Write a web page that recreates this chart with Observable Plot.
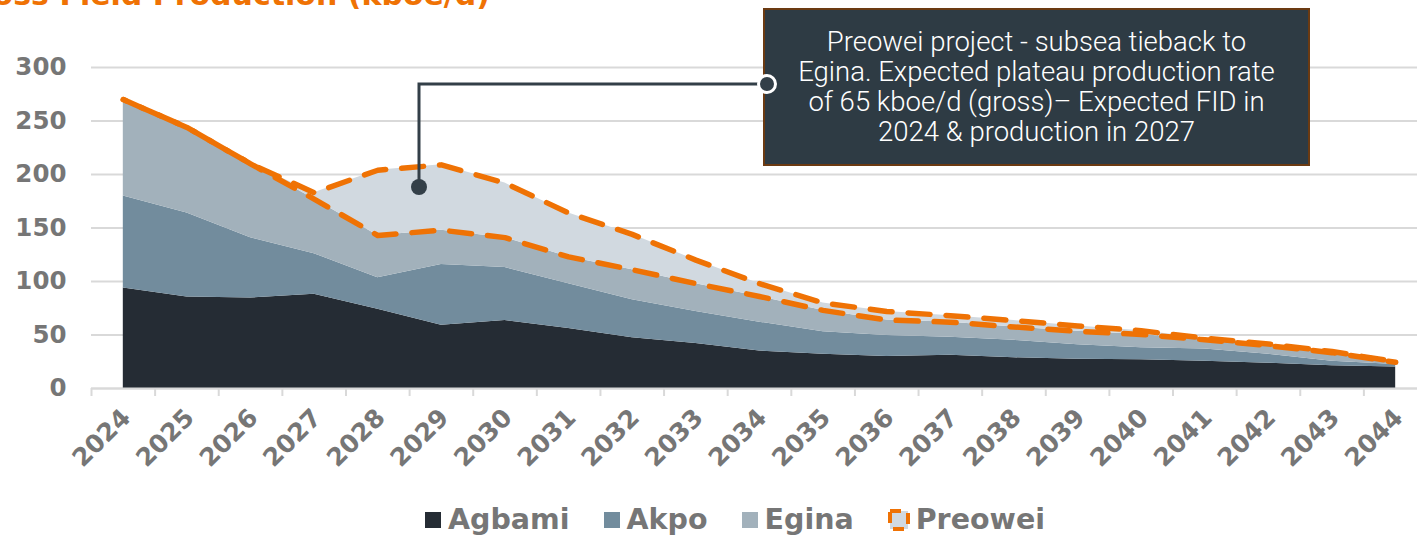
<!DOCTYPE html>
<html><head><meta charset="utf-8">
<script src="https://cdn.jsdelivr.net/npm/d3@7"></script>
<script src="https://cdn.jsdelivr.net/npm/@observablehq/plot@0.6"></script>
<style>
html,body{margin:0;padding:0;background:#fff;overflow:hidden;width:1417px;height:536px;position:relative}
#chart{position:absolute;left:0;top:0}
#chart svg{overflow:hidden}
.title{position:absolute;right:927px;top:-20px;font:bold 30px/30px 'DejaVu Sans';color:#EF7204;white-space:nowrap}
.note{position:absolute;left:763px;top:8px;width:547px;height:158px;box-sizing:border-box;background:#2E3B44;border:2px solid #6B3A12;display:flex;align-items:center;justify-content:center;text-align:center;color:#fff;font:300 27.5px/30px Roboto;}
#conn{position:absolute;left:0;top:0;pointer-events:none}
.legend{position:absolute;left:425px;top:503px;display:flex;align-items:center;font:bold 28.5px/34px 'DejaVu Sans';color:#767676;white-space:nowrap}
.legend .sw{display:inline-block;width:16px;height:16px;margin-right:7px}
.legend .item{display:flex;align-items:center;margin-right:34px}
</style></head><body>
<div id="chart"></div>
<div class="title">Gross Field Production (kboe/d)</div>
<div class="note"><div>Preowei project - subsea tieback to<br>Egina. Expected plateau production rate<br>of 65 kboe/d (gross)– Expected FID in<br>2024 &amp; production in 2027</div></div>
<svg id="conn" width="1417" height="536">
  <polyline points="419,187 419,84 767,84" fill="none" stroke="#333F48" stroke-width="3"/>
  <circle cx="419" cy="187" r="8" fill="#333F48"/>
  <circle cx="767" cy="84" r="8.5" fill="#333F48" stroke="#fff" stroke-width="3"/>
</svg>
<div class="legend" id="legend"></div>
<script>
const years = [2024,2025,2026,2027,2028,2029,2030,2031,2032,2033,2034,2035,2036,2037,2038,2039,2040,2041,2042,2043,2044];
const seriesNames = ["Agbami","Akpo","Egina","Preowei"];
const seriesColors = ["#252C34","#728C9D","#A2B1BB","#D1D9E0"];
const agbami  = [94,85.5,84.5,88,74,59,63.5,56,47.5,42,35,32,30,31,28.7,27.4,26.8,25.5,23.7,21.2,20];
const akpo    = [86,78.5,56.5,38,29.5,57,49.5,42,35.5,30,27,21,19.5,17,16.3,13.6,11.2,11.5,8.3,4.3,2.4];
const egina   = [90,80,69,51,39.5,32,28,25,28,26,24,20,14.5,14,12.5,12.5,12.5,8.5,8,8,2.1];
const preowei = [0,0,0,6,61,61,51,41,33,22,12,7,8,6,6,5,3.5,1.5,1.5,1,0.5];
const yTicks = [0,50,100,150,200,250,300];
const boundaries = years.map(y => y - 0.5).concat([2044.5]);

const valuesBySeries = [agbami, akpo, egina, preowei];
const rows = years.flatMap((yr, i) => seriesNames.map((s, k) => ({year: yr, series: s, value: valuesBySeries[k][i]})));
const baseTop = years.map((yr, i) => ({year: yr, value: agbami[i] + akpo[i] + egina[i]}));
const totalTop = years.map((yr, i) => ({year: yr, value: agbami[i] + akpo[i] + egina[i] + preowei[i]}));

const orange = "#EF7204";
const font = "DejaVu Sans";
const plot = Plot.plot({
  width: 1417, height: 490,
  marginLeft: 91, marginRight: 0, marginTop: 67, marginBottom: 102,
  x: {type: "linear", domain: [2023.5, 2044.5], range: [91, 1427], label: null},
  y: {domain: [0, 300], label: null},
  color: {domain: seriesNames, range: seriesColors},
  marks: [
    Plot.gridY(yTicks, {stroke: "#D9D9D9", strokeWidth: 2, strokeOpacity: 1}),
    Plot.areaY(rows, {x: "year", y: "value", fill: "series", order: seriesNames}),
    Plot.ruleY([0], {stroke: "#D9D9D9", strokeWidth: 2}),
    Plot.axisX(boundaries, {tickSize: 8, stroke: "#D9D9D9", strokeWidth: 2, tickFormat: () => "", label: null}),
    Plot.axisX(years, {tickSize: 0, tickPadding: 25, dx: 3, tickRotate: -45, tickFormat: d => String(d), fontSize: 25, fontFamily: font, fontWeight: "bold", fill: "#767676", label: null}),
    Plot.axisY(yTicks, {tickSize: 0, tickPadding: 25, fontSize: 24.5, fontFamily: font, fontWeight: "bold", fill: "#767676", label: null}),
    Plot.line(baseTop, {x: "year", y: "value", stroke: orange, strokeWidth: 5.5, strokeDasharray: "22,16", strokeDashoffset: 19}),
    Plot.line(totalTop, {x: "year", y: "value", stroke: orange, strokeWidth: 5.5, strokeDasharray: "22,16"})
  ]
});
document.getElementById("chart").appendChild(plot);

const legend = document.getElementById("legend");
seriesNames.forEach((s, k) => {
  const item = document.createElement("div");
  item.className = "item";
  if (s === "Preowei") {
    item.innerHTML = `<svg width="22" height="22" style="margin-right:6px"><rect x="2" y="2" width="18" height="18" fill="${seriesColors[k]}" stroke="${orange}" stroke-width="4" stroke-dasharray="11,9"/></svg><span>${s}</span>`;
  } else {
    item.innerHTML = `<span class="sw" style="background:${seriesColors[k]}"></span><span>${s}</span>`;
  }
  legend.appendChild(item);
});
</script>
</body></html>
